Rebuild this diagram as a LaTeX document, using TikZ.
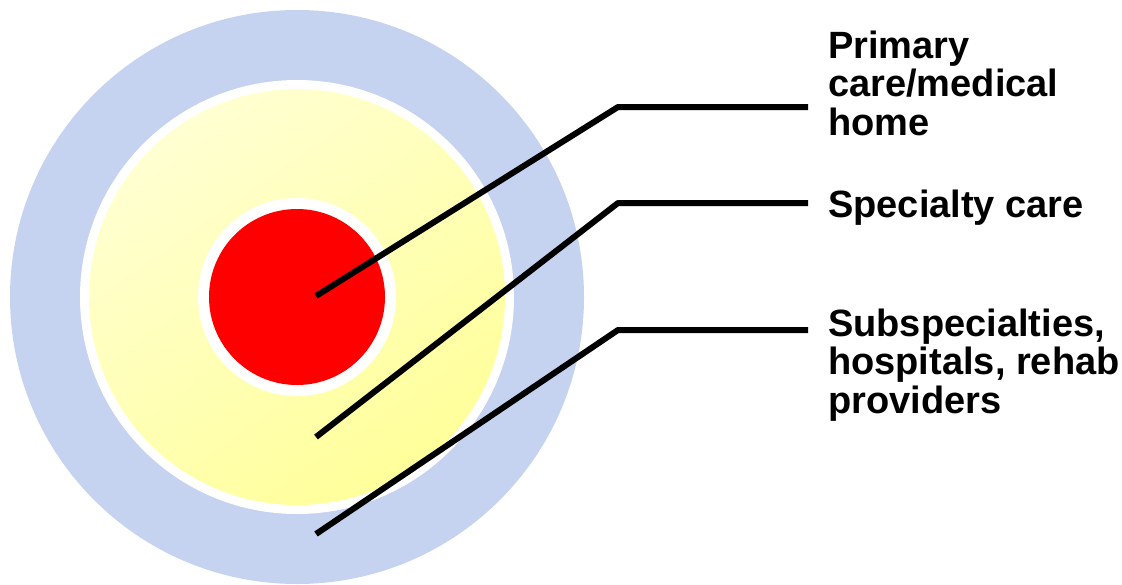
\documentclass[tikz,border=0pt]{standalone}
\usepackage{fontspec}
\setmainfont{Liberation Sans}

\definecolor{ringblue}{HTML}{C5D3F0}
\definecolor{paleyellow}{HTML}{FFFFD2}
\definecolor{deepyellow}{HTML}{FFFF9A}
\definecolor{corered}{HTML}{FF0000}

\begin{document}
\begin{tikzpicture}[x=1pt, y=-1pt]
    % Define styles
    \tikzstyle{ringtext} = [anchor=base west, inner sep=0pt, align=left, font=\fontsize{38}{38.5}\selectfont\bfseries]
    \tikzstyle{leader} = [line width=6pt, line join=round]

    \useasboundingbox (0,0) rectangle (1122,584);

    % Rings
    \coordinate (ctr) at (297,297);
    \fill[ringblue] (ctr) circle[radius=287pt];
    \fill[white] (ctr) circle[radius=217pt];
    \shade[top color=paleyellow, bottom color=deepyellow, shading angle=35] (ctr) circle[radius=208pt];
    \fill[white] (ctr) circle[radius=99pt];
    \fill[corered] (ctr) circle[radius=88pt];

    % Labels (anchored at the baseline of their last line)
    \node[ringtext] (primary) at (828,135) {Primary\\care/medical\\home};
    \node[ringtext] (specialty) at (828,217) {Specialty care};
    \node[ringtext] (subspec) at (828,413) {Subspecialties,\\hospitals, rehab\\providers};

    % Leader points
    \coordinate (dot1) at (316,296);
    \coordinate (dot2) at (316,437);
    \coordinate (dot3) at (316,534);
    \coordinate (bend1) at (618,107);
    \coordinate (bend2) at (618,203);
    \coordinate (bend3) at (618,330);
    \coordinate (end1) at (808,107);
    \coordinate (end2) at (808,203);
    \coordinate (end3) at (808,330);

    % Leaders
    \draw[leader] (dot1) -- (bend1) -- (end1);
    \draw[leader] (dot2) -- (bend2) -- (end2);
    \draw[leader] (dot3) -- (bend3) -- (end3);
\end{tikzpicture}
\end{document}
